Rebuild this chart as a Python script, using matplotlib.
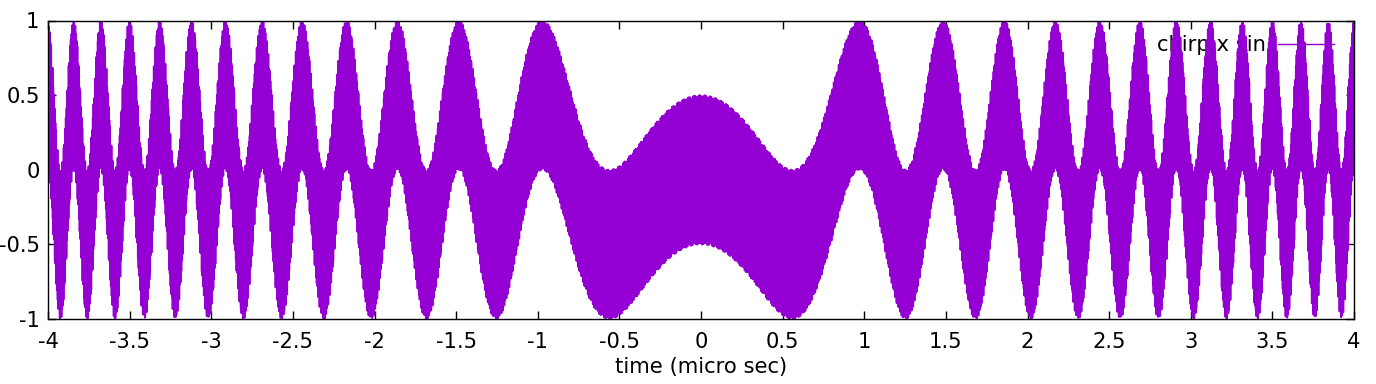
import numpy as np
import matplotlib
matplotlib.use("Agg")
import matplotlib.pyplot as plt

# ---- data (function plot parameters) ----
t_range = [-4.0, 4.0]
n_samples = 10000
chirp_rate = 5.0          # phase = chirp_rate * t^2
carrier_freq = 230.0      # cycles per micro second
amp_carrier = 0.5
amp_chirp = 0.5
xticks = [-4, -3.5, -3, -2.5, -2, -1.5, -1, -0.5, 0, 0.5, 1, 1.5, 2, 2.5, 3, 3.5, 4]
yticks = [-1, -0.5, 0, 0.5, 1]
series_label = "chirp x sin"
xlabel = "time (micro sec)"

t = np.linspace(t_range[0], t_range[1], n_samples)
y = amp_carrier * np.sin(2 * np.pi * carrier_freq * t) - amp_chirp * np.sin(chirp_rate * t ** 2)

color = "#9400d3"
plt.rcParams['font.family'] = ['DejaVu Sans']
fs = 15.2

fig = plt.figure(figsize=(13.76, 3.84), dpi=100)
ax = fig.add_axes([48 / 1376, 65 / 384, 1306 / 1376, 298.5 / 384])

fig.text(1266 / 1376, 1 - 45 / 384, series_label, ha='right', va='center',
         fontsize=fs, zorder=0.5)
ax.set_zorder(1)
ax.patch.set_alpha(0)
ax.plot(t, y, color=color, lw=1.5, zorder=2)
ax.plot([1278 / 1376, 1334 / 1376], [1 - 44.3 / 384, 1 - 44.3 / 384],
        transform=fig.transFigure, color=color, lw=1.0, zorder=3, clip_on=False)

ax.set_xlim(t_range)
ax.set_ylim(-1, 1)
ax.set_xticks(xticks)
ax.set_xticklabels([f"{v:g}" for v in xticks])
ax.set_yticks(yticks)
ax.set_yticklabels([f"{v:g}" for v in yticks])
ax.tick_params(direction='in', length=6, width=1, top=True, right=True,
               labelsize=fs)
ax.tick_params(axis='x', pad=9)
ax.tick_params(axis='y', pad=6)
for s in ax.spines.values():
    s.set_linewidth(1.0)
ax.set_xlabel(xlabel, fontsize=fs, labelpad=4)

fig.savefig("out.png", dpi=100)
